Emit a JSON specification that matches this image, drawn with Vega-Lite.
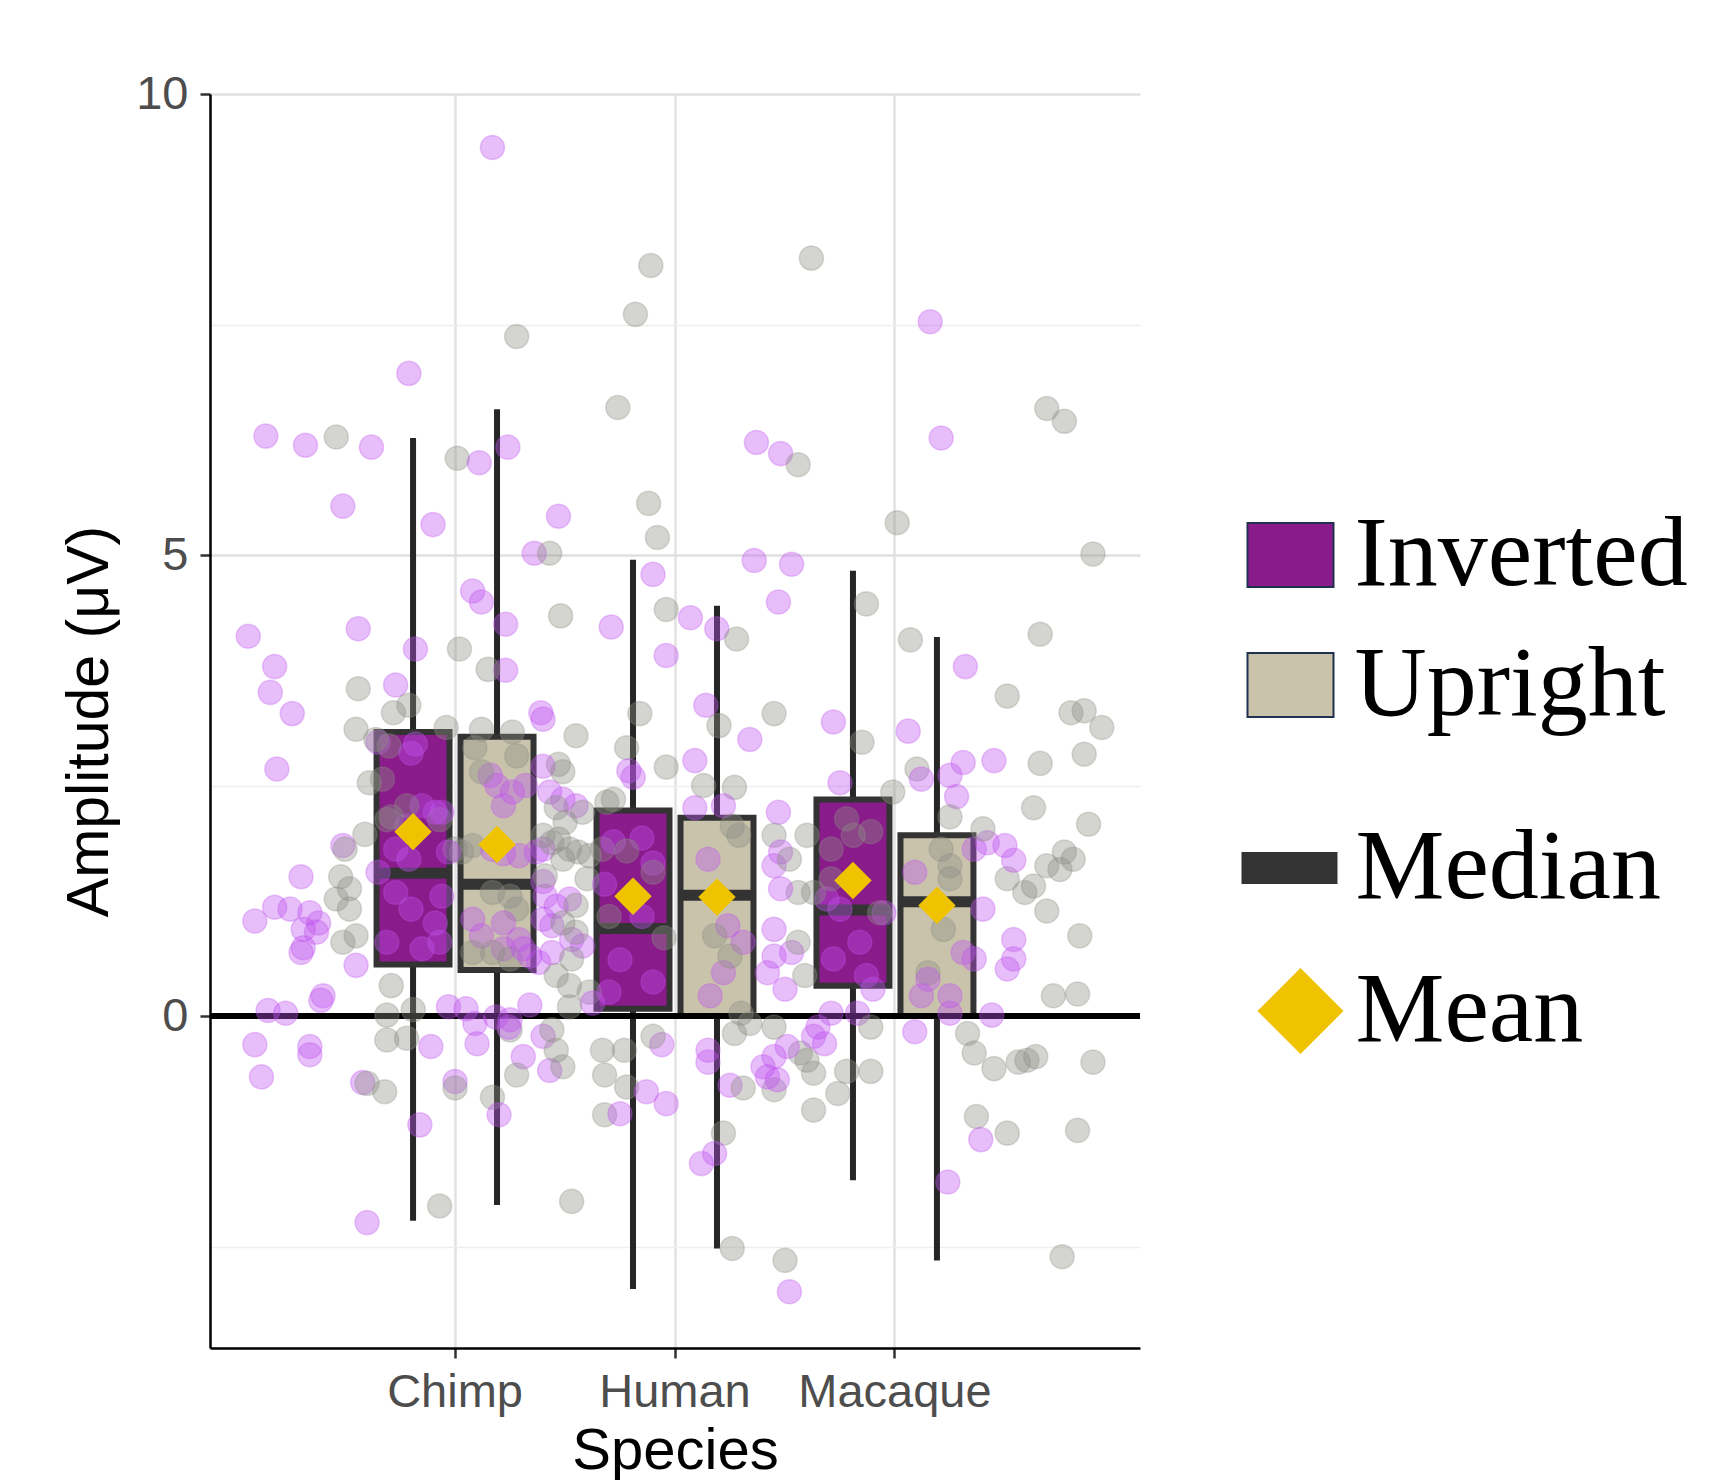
{
"$schema": "https://vega.github.io/schema/vega-lite/v6.json",
"width": 930, "height": 1254,
"autosize": {"type": "none"},
"padding": {"left": 210, "top": 94, "right": 570, "bottom": 132},
"background": "white",
"config": {
  "view": {"stroke": null},
  "font": "Liberation Sans",
  "axis": {"labelFont": "Liberation Sans", "labelFontSize": 47, "labelColor": "#4d4d4d", "labelLimit": 400, "tickSize": 10, "tickWidth": 2.5, "tickColor": "#333333", "domainColor": "black", "domainWidth": 2.5, "grid": true, "gridColor": "#e2e2e2", "gridWidth": 2.5, "titleFont": "Liberation Sans", "titleColor": "black", "titleFontWeight": "normal"},
  "axisX": {"titleFontSize": 58},
  "axisY": {"titleFontSize": 59}
},
"datasets": {
"stats": [
{"species":"Chimp","condition":"Inverted","lower":-2.22,"q1":0.56,"median":1.55,"q3":3.08,"upper":6.27,"mean":2.00},
{"species":"Chimp","condition":"Upright","lower":-2.05,"q1":0.50,"median":1.43,"q3":3.03,"upper":6.58,"mean":1.86},
{"species":"Human","condition":"Inverted","lower":-2.96,"q1":0.08,"median":0.95,"q3":2.23,"upper":4.95,"mean":1.30},
{"species":"Human","condition":"Upright","lower":-2.52,"q1":0.00,"median":1.31,"q3":2.15,"upper":4.45,"mean":1.29},
{"species":"Macaque","condition":"Inverted","lower":-1.78,"q1":0.33,"median":1.15,"q3":2.35,"upper":4.83,"mean":1.47},
{"species":"Macaque","condition":"Upright","lower":-2.65,"q1":0.00,"median":1.24,"q3":1.96,"upper":4.11,"mean":1.20}
],
"points": [
{"species":"Chimp","condition":"Inverted","jitter":0.17,"amplitude":9.42},
{"species":"Human","condition":"Upright","jitter":-0.11,"amplitude":8.14},
{"species":"Human","condition":"Upright","jitter":-0.18,"amplitude":7.61},
{"species":"Chimp","condition":"Upright","jitter":0.28,"amplitude":7.37},
{"species":"Chimp","condition":"Inverted","jitter":-0.21,"amplitude":6.97},
{"species":"Human","condition":"Upright","jitter":-0.26,"amplitude":6.60},
{"species":"Chimp","condition":"Inverted","jitter":-0.86,"amplitude":6.29},
{"species":"Chimp","condition":"Inverted","jitter":-0.68,"amplitude":6.19},
{"species":"Chimp","condition":"Upright","jitter":-0.54,"amplitude":6.28},
{"species":"Chimp","condition":"Inverted","jitter":-0.38,"amplitude":6.17},
{"species":"Chimp","condition":"Upright","jitter":0.01,"amplitude":6.05},
{"species":"Chimp","condition":"Inverted","jitter":0.11,"amplitude":6.00},
{"species":"Chimp","condition":"Inverted","jitter":0.24,"amplitude":6.17},
{"species":"Chimp","condition":"Inverted","jitter":-0.51,"amplitude":5.53},
{"species":"Chimp","condition":"Inverted","jitter":-0.10,"amplitude":5.33},
{"species":"Chimp","condition":"Inverted","jitter":0.47,"amplitude":5.42},
{"species":"Human","condition":"Upright","jitter":-0.12,"amplitude":5.56},
{"species":"Human","condition":"Upright","jitter":-0.08,"amplitude":5.19},
{"species":"Chimp","condition":"Inverted","jitter":0.36,"amplitude":5.02},
{"species":"Chimp","condition":"Upright","jitter":0.43,"amplitude":5.02},
{"species":"Macaque","condition":"Upright","jitter":-0.38,"amplitude":8.22},
{"species":"Macaque","condition":"Inverted","jitter":0.16,"amplitude":7.53},
{"species":"Macaque","condition":"Upright","jitter":0.69,"amplitude":6.59},
{"species":"Macaque","condition":"Upright","jitter":0.77,"amplitude":6.45},
{"species":"Macaque","condition":"Inverted","jitter":0.21,"amplitude":6.27},
{"species":"Human","condition":"Inverted","jitter":0.37,"amplitude":6.22},
{"species":"Human","condition":"Inverted","jitter":0.48,"amplitude":6.10},
{"species":"Macaque","condition":"Upright","jitter":-0.44,"amplitude":5.98},
{"species":"Macaque","condition":"Upright","jitter":0.01,"amplitude":5.35},
{"species":"Macaque","condition":"Upright","jitter":0.90,"amplitude":5.01},
{"species":"Human","condition":"Inverted","jitter":0.36,"amplitude":4.94},
{"species":"Human","condition":"Inverted","jitter":0.53,"amplitude":4.90},
{"species":"Chimp","condition":"Inverted","jitter":-0.94,"amplitude":4.12},
{"species":"Chimp","condition":"Inverted","jitter":-0.44,"amplitude":4.20},
{"species":"Chimp","condition":"Inverted","jitter":-0.82,"amplitude":3.79},
{"species":"Chimp","condition":"Inverted","jitter":-0.84,"amplitude":3.51},
{"species":"Chimp","condition":"Inverted","jitter":-0.74,"amplitude":3.28},
{"species":"Chimp","condition":"Inverted","jitter":-0.81,"amplitude":2.68},
{"species":"Chimp","condition":"Inverted","jitter":-0.18,"amplitude":3.98},
{"species":"Chimp","condition":"Upright","jitter":0.02,"amplitude":3.98},
{"species":"Chimp","condition":"Inverted","jitter":-0.27,"amplitude":3.59},
{"species":"Chimp","condition":"Upright","jitter":-0.44,"amplitude":3.55},
{"species":"Chimp","condition":"Upright","jitter":-0.21,"amplitude":3.37},
{"species":"Chimp","condition":"Upright","jitter":-0.28,"amplitude":3.29},
{"species":"Chimp","condition":"Upright","jitter":-0.45,"amplitude":3.11},
{"species":"Chimp","condition":"Inverted","jitter":0.08,"amplitude":4.61},
{"species":"Chimp","condition":"Inverted","jitter":0.12,"amplitude":4.49},
{"species":"Chimp","condition":"Inverted","jitter":0.23,"amplitude":4.25},
{"species":"Chimp","condition":"Inverted","jitter":0.23,"amplitude":3.75},
{"species":"Chimp","condition":"Upright","jitter":0.15,"amplitude":3.76},
{"species":"Chimp","condition":"Upright","jitter":0.48,"amplitude":4.34},
{"species":"Human","condition":"Inverted","jitter":-0.29,"amplitude":4.22},
{"species":"Chimp","condition":"Inverted","jitter":0.39,"amplitude":3.29},
{"species":"Chimp","condition":"Inverted","jitter":0.40,"amplitude":3.22},
{"species":"Human","condition":"Upright","jitter":-0.45,"amplitude":3.04},
{"species":"Human","condition":"Upright","jitter":-0.22,"amplitude":2.91},
{"species":"Human","condition":"Upright","jitter":-0.16,"amplitude":3.28},
{"species":"Human","condition":"Inverted","jitter":-0.21,"amplitude":2.66},
{"species":"Human","condition":"Inverted","jitter":-0.10,"amplitude":4.79},
{"species":"Human","condition":"Upright","jitter":-0.04,"amplitude":4.41},
{"species":"Human","condition":"Inverted","jitter":-0.04,"amplitude":3.91},
{"species":"Human","condition":"Upright","jitter":-0.04,"amplitude":2.70},
{"species":"Human","condition":"Inverted","jitter":-0.19,"amplitude":2.59},
{"species":"Chimp","condition":"Upright","jitter":0.47,"amplitude":2.73},
{"species":"Chimp","condition":"Upright","jitter":-0.39,"amplitude":2.53},
{"species":"Chimp","condition":"Upright","jitter":-0.04,"amplitude":3.13},
{"species":"Chimp","condition":"Upright","jitter":0.12,"amplitude":3.11},
{"species":"Chimp","condition":"Upright","jitter":0.26,"amplitude":3.08},
{"species":"Chimp","condition":"Inverted","jitter":-0.18,"amplitude":2.95},
{"species":"Chimp","condition":"Inverted","jitter":-0.35,"amplitude":2.97},
{"species":"Chimp","condition":"Inverted","jitter":0.16,"amplitude":2.61},
{"species":"Chimp","condition":"Inverted","jitter":0.19,"amplitude":2.50},
{"species":"Chimp","condition":"Inverted","jitter":0.26,"amplitude":2.43},
{"species":"Chimp","condition":"Inverted","jitter":0.22,"amplitude":2.28},
{"species":"Chimp","condition":"Upright","jitter":0.12,"amplitude":2.65},
{"species":"Chimp","condition":"Inverted","jitter":0.32,"amplitude":2.50},
{"species":"Chimp","condition":"Inverted","jitter":0.40,"amplitude":2.71},
{"species":"Chimp","condition":"Upright","jitter":0.49,"amplitude":2.65},
{"species":"Chimp","condition":"Inverted","jitter":0.43,"amplitude":2.43},
{"species":"Chimp","condition":"Inverted","jitter":0.49,"amplitude":2.35},
{"species":"Human","condition":"Inverted","jitter":-0.45,"amplitude":2.28},
{"species":"Human","condition":"Upright","jitter":-0.42,"amplitude":2.21},
{"species":"Human","condition":"Upright","jitter":-0.31,"amplitude":2.32},
{"species":"Human","condition":"Upright","jitter":-0.28,"amplitude":2.35},
{"species":"Chimp","condition":"Upright","jitter":0.46,"amplitude":2.26},
{"species":"Chimp","condition":"Upright","jitter":0.50,"amplitude":2.10},
{"species":"Chimp","condition":"Upright","jitter":0.47,"amplitude":1.92},
{"species":"Chimp","condition":"Inverted","jitter":-0.15,"amplitude":2.28},
{"species":"Chimp","condition":"Upright","jitter":-0.07,"amplitude":2.13},
{"species":"Chimp","condition":"Inverted","jitter":-0.22,"amplitude":2.06},
{"species":"Chimp","condition":"Inverted","jitter":-0.09,"amplitude":2.21},
{"species":"Chimp","condition":"Upright","jitter":-0.29,"amplitude":2.16},
{"species":"Chimp","condition":"Upright","jitter":-0.41,"amplitude":1.97},
{"species":"Chimp","condition":"Inverted","jitter":-0.51,"amplitude":1.85},
{"species":"Chimp","condition":"Upright","jitter":-0.50,"amplitude":1.81},
{"species":"Chimp","condition":"Inverted","jitter":-0.27,"amplitude":1.81},
{"species":"Chimp","condition":"Inverted","jitter":-0.21,"amplitude":1.70},
{"species":"Chimp","condition":"Upright","jitter":0.00,"amplitude":1.81},
{"species":"Chimp","condition":"Upright","jitter":0.03,"amplitude":1.78},
{"species":"Chimp","condition":"Upright","jitter":0.08,"amplitude":1.85},
{"species":"Chimp","condition":"Inverted","jitter":-0.03,"amplitude":1.78},
{"species":"Chimp","condition":"Inverted","jitter":0.29,"amplitude":1.74},
{"species":"Chimp","condition":"Inverted","jitter":0.37,"amplitude":1.78},
{"species":"Chimp","condition":"Inverted","jitter":0.40,"amplitude":1.81},
{"species":"Chimp","condition":"Upright","jitter":0.40,"amplitude":1.96},
{"species":"Chimp","condition":"Upright","jitter":0.44,"amplitude":1.88},
{"species":"Chimp","condition":"Upright","jitter":0.52,"amplitude":1.81},
{"species":"Human","condition":"Upright","jitter":-0.44,"amplitude":1.78},
{"species":"Human","condition":"Upright","jitter":-0.39,"amplitude":1.74},
{"species":"Human","condition":"Upright","jitter":-0.33,"amplitude":1.81},
{"species":"Chimp","condition":"Inverted","jitter":-0.70,"amplitude":1.51},
{"species":"Chimp","condition":"Upright","jitter":-0.52,"amplitude":1.51},
{"species":"Chimp","condition":"Upright","jitter":-0.48,"amplitude":1.38},
{"species":"Chimp","condition":"Upright","jitter":-0.54,"amplitude":1.27},
{"species":"Chimp","condition":"Upright","jitter":-0.48,"amplitude":1.16},
{"species":"Chimp","condition":"Upright","jitter":-0.51,"amplitude":0.80},
{"species":"Chimp","condition":"Upright","jitter":-0.45,"amplitude":0.87},
{"species":"Chimp","condition":"Inverted","jitter":-0.91,"amplitude":1.03},
{"species":"Chimp","condition":"Inverted","jitter":-0.82,"amplitude":1.18},
{"species":"Chimp","condition":"Inverted","jitter":-0.75,"amplitude":1.16},
{"species":"Chimp","condition":"Inverted","jitter":-0.66,"amplitude":1.12},
{"species":"Chimp","condition":"Inverted","jitter":-0.69,"amplitude":0.94},
{"species":"Chimp","condition":"Inverted","jitter":-0.62,"amplitude":1.01},
{"species":"Chimp","condition":"Inverted","jitter":-0.63,"amplitude":0.91},
{"species":"Chimp","condition":"Inverted","jitter":-0.69,"amplitude":0.74},
{"species":"Chimp","condition":"Inverted","jitter":-0.70,"amplitude":0.69},
{"species":"Chimp","condition":"Inverted","jitter":-0.45,"amplitude":0.55},
{"species":"Chimp","condition":"Upright","jitter":-0.29,"amplitude":0.33},
{"species":"Chimp","condition":"Inverted","jitter":-0.60,"amplitude":0.22},
{"species":"Chimp","condition":"Inverted","jitter":-0.85,"amplitude":0.06},
{"species":"Chimp","condition":"Inverted","jitter":-0.77,"amplitude":0.03},
{"species":"Chimp","condition":"Upright","jitter":-0.36,"amplitude":3.00},
{"species":"Chimp","condition":"Upright","jitter":-0.30,"amplitude":2.93},
{"species":"Chimp","condition":"Upright","jitter":-0.33,"amplitude":2.57},
{"species":"Chimp","condition":"Upright","jitter":-0.22,"amplitude":2.28},
{"species":"Chimp","condition":"Upright","jitter":-0.31,"amplitude":2.13},
{"species":"Chimp","condition":"Inverted","jitter":-0.20,"amplitude":2.85},
{"species":"Chimp","condition":"Inverted","jitter":-0.06,"amplitude":2.21},
{"species":"Chimp","condition":"Inverted","jitter":-0.35,"amplitude":1.56},
{"species":"Chimp","condition":"Inverted","jitter":-0.27,"amplitude":1.34},
{"species":"Chimp","condition":"Inverted","jitter":-0.31,"amplitude":0.80},
{"species":"Chimp","condition":"Inverted","jitter":-0.06,"amplitude":1.30},
{"species":"Chimp","condition":"Inverted","jitter":-0.20,"amplitude":1.16},
{"species":"Chimp","condition":"Inverted","jitter":-0.09,"amplitude":1.01},
{"species":"Chimp","condition":"Inverted","jitter":-0.07,"amplitude":0.80},
{"species":"Chimp","condition":"Inverted","jitter":-0.15,"amplitude":0.73},
{"species":"Chimp","condition":"Upright","jitter":0.09,"amplitude":2.91},
{"species":"Chimp","condition":"Upright","jitter":0.28,"amplitude":2.82},
{"species":"Chimp","condition":"Inverted","jitter":0.17,"amplitude":1.81},
{"species":"Chimp","condition":"Inverted","jitter":0.22,"amplitude":1.76},
{"species":"Chimp","condition":"Upright","jitter":0.17,"amplitude":1.34},
{"species":"Chimp","condition":"Upright","jitter":0.25,"amplitude":1.30},
{"species":"Chimp","condition":"Upright","jitter":0.28,"amplitude":1.16},
{"species":"Chimp","condition":"Inverted","jitter":0.08,"amplitude":1.05},
{"species":"Chimp","condition":"Inverted","jitter":0.22,"amplitude":1.01},
{"species":"Chimp","condition":"Inverted","jitter":0.12,"amplitude":0.87},
{"species":"Chimp","condition":"Inverted","jitter":0.29,"amplitude":0.83},
{"species":"Chimp","condition":"Inverted","jitter":0.22,"amplitude":0.73},
{"species":"Chimp","condition":"Upright","jitter":0.08,"amplitude":0.69},
{"species":"Chimp","condition":"Upright","jitter":0.17,"amplitude":0.69},
{"species":"Chimp","condition":"Upright","jitter":0.25,"amplitude":0.62},
{"species":"Chimp","condition":"Inverted","jitter":0.31,"amplitude":0.73},
{"species":"Chimp","condition":"Inverted","jitter":0.34,"amplitude":0.65},
{"species":"Chimp","condition":"Inverted","jitter":0.40,"amplitude":1.46},
{"species":"Chimp","condition":"Inverted","jitter":0.41,"amplitude":1.30},
{"species":"Chimp","condition":"Inverted","jitter":0.46,"amplitude":1.19},
{"species":"Chimp","condition":"Inverted","jitter":0.52,"amplitude":1.27},
{"species":"Chimp","condition":"Inverted","jitter":0.40,"amplitude":1.05},
{"species":"Chimp","condition":"Inverted","jitter":0.44,"amplitude":0.98},
{"species":"Chimp","condition":"Inverted","jitter":0.53,"amplitude":0.83},
{"species":"Human","condition":"Inverted","jitter":-0.42,"amplitude":0.76},
{"species":"Chimp","condition":"Inverted","jitter":0.44,"amplitude":0.69},
{"species":"Chimp","condition":"Inverted","jitter":0.38,"amplitude":0.58},
{"species":"Chimp","condition":"Upright","jitter":0.41,"amplitude":1.52},
{"species":"Chimp","condition":"Upright","jitter":0.49,"amplitude":1.70},
{"species":"Human","condition":"Upright","jitter":-0.45,"amplitude":1.20},
{"species":"Human","condition":"Upright","jitter":-0.40,"amplitude":1.49},
{"species":"Chimp","condition":"Upright","jitter":0.49,"amplitude":1.01},
{"species":"Human","condition":"Upright","jitter":-0.45,"amplitude":0.91},
{"species":"Chimp","condition":"Upright","jitter":0.53,"amplitude":0.62},
{"species":"Chimp","condition":"Upright","jitter":0.46,"amplitude":0.44},
{"species":"Chimp","condition":"Upright","jitter":0.52,"amplitude":0.33},
{"species":"Human","condition":"Upright","jitter":-0.39,"amplitude":0.26},
{"species":"Human","condition":"Inverted","jitter":0.47,"amplitude":4.49},
{"species":"Macaque","condition":"Upright","jitter":-0.13,"amplitude":4.47},
{"species":"Human","condition":"Inverted","jitter":0.07,"amplitude":4.32},
{"species":"Human","condition":"Inverted","jitter":0.19,"amplitude":4.20},
{"species":"Human","condition":"Upright","jitter":0.28,"amplitude":4.09},
{"species":"Macaque","condition":"Upright","jitter":0.07,"amplitude":4.08},
{"species":"Macaque","condition":"Upright","jitter":0.66,"amplitude":4.14},
{"species":"Macaque","condition":"Inverted","jitter":0.32,"amplitude":3.79},
{"species":"Macaque","condition":"Upright","jitter":0.51,"amplitude":3.47},
{"species":"Macaque","condition":"Upright","jitter":0.80,"amplitude":3.29},
{"species":"Macaque","condition":"Upright","jitter":0.86,"amplitude":3.31},
{"species":"Macaque","condition":"Upright","jitter":0.94,"amplitude":3.13},
{"species":"Macaque","condition":"Upright","jitter":0.86,"amplitude":2.84},
{"species":"Human","condition":"Inverted","jitter":0.14,"amplitude":3.37},
{"species":"Human","condition":"Upright","jitter":0.20,"amplitude":3.15},
{"species":"Human","condition":"Upright","jitter":0.45,"amplitude":3.28},
{"species":"Human","condition":"Inverted","jitter":0.34,"amplitude":3.00},
{"species":"Macaque","condition":"Inverted","jitter":-0.28,"amplitude":3.19},
{"species":"Macaque","condition":"Upright","jitter":-0.15,"amplitude":2.97},
{"species":"Macaque","condition":"Inverted","jitter":0.06,"amplitude":3.09},
{"species":"Human","condition":"Inverted","jitter":0.09,"amplitude":2.77},
{"species":"Human","condition":"Upright","jitter":0.27,"amplitude":2.48},
{"species":"Macaque","condition":"Inverted","jitter":-0.25,"amplitude":2.53},
{"species":"Macaque","condition":"Upright","jitter":-0.01,"amplitude":2.43},
{"species":"Macaque","condition":"Upright","jitter":0.10,"amplitude":2.68},
{"species":"Macaque","condition":"Inverted","jitter":0.12,"amplitude":2.57},
{"species":"Macaque","condition":"Inverted","jitter":0.25,"amplitude":2.61},
{"species":"Macaque","condition":"Inverted","jitter":0.31,"amplitude":2.75},
{"species":"Macaque","condition":"Inverted","jitter":0.45,"amplitude":2.77},
{"species":"Macaque","condition":"Inverted","jitter":0.28,"amplitude":2.38},
{"species":"Macaque","condition":"Upright","jitter":0.25,"amplitude":2.16},
{"species":"Macaque","condition":"Upright","jitter":0.63,"amplitude":2.26},
{"species":"Human","condition":"Inverted","jitter":0.09,"amplitude":2.26},
{"species":"Human","condition":"Inverted","jitter":0.22,"amplitude":2.28},
{"species":"Human","condition":"Inverted","jitter":0.47,"amplitude":2.21},
{"species":"Human","condition":"Upright","jitter":0.26,"amplitude":2.06},
{"species":"Human","condition":"Upright","jitter":0.29,"amplitude":1.96},
{"species":"Human","condition":"Upright","jitter":0.45,"amplitude":1.96},
{"species":"Macaque","condition":"Upright","jitter":-0.40,"amplitude":1.96},
{"species":"Human","condition":"Inverted","jitter":0.48,"amplitude":1.78},
{"species":"Human","condition":"Inverted","jitter":0.45,"amplitude":1.63},
{"species":"Human","condition":"Upright","jitter":0.52,"amplitude":1.70},
{"species":"Macaque","condition":"Upright","jitter":-0.44,"amplitude":1.34},
{"species":"Human","condition":"Inverted","jitter":0.48,"amplitude":1.38},
{"species":"Macaque","condition":"Upright","jitter":0.51,"amplitude":1.49},
{"species":"Macaque","condition":"Upright","jitter":0.59,"amplitude":1.34},
{"species":"Macaque","condition":"Upright","jitter":0.63,"amplitude":1.41},
{"species":"Macaque","condition":"Upright","jitter":0.69,"amplitude":1.63},
{"species":"Macaque","condition":"Upright","jitter":0.77,"amplitude":1.78},
{"species":"Macaque","condition":"Upright","jitter":0.81,"amplitude":1.70},
{"species":"Macaque","condition":"Upright","jitter":0.75,"amplitude":1.59},
{"species":"Macaque","condition":"Upright","jitter":0.69,"amplitude":1.14},
{"species":"Macaque","condition":"Upright","jitter":0.84,"amplitude":0.87},
{"species":"Macaque","condition":"Inverted","jitter":0.36,"amplitude":1.81},
{"species":"Macaque","condition":"Inverted","jitter":0.42,"amplitude":1.88},
{"species":"Macaque","condition":"Inverted","jitter":0.50,"amplitude":1.85},
{"species":"Macaque","condition":"Inverted","jitter":0.54,"amplitude":1.69},
{"species":"Macaque","condition":"Inverted","jitter":0.40,"amplitude":1.16},
{"species":"Macaque","condition":"Inverted","jitter":0.54,"amplitude":0.83},
{"species":"Macaque","condition":"Inverted","jitter":0.54,"amplitude":0.62},
{"species":"Macaque","condition":"Inverted","jitter":0.51,"amplitude":0.51},
{"species":"Macaque","condition":"Inverted","jitter":0.31,"amplitude":0.69},
{"species":"Macaque","condition":"Inverted","jitter":0.36,"amplitude":0.62},
{"species":"Macaque","condition":"Upright","jitter":0.72,"amplitude":0.22},
{"species":"Macaque","condition":"Upright","jitter":0.83,"amplitude":0.24},
{"species":"Human","condition":"Inverted","jitter":0.15,"amplitude":1.70},
{"species":"Human","condition":"Inverted","jitter":0.24,"amplitude":0.98},
{"species":"Human","condition":"Inverted","jitter":0.22,"amplitude":0.47},
{"species":"Human","condition":"Inverted","jitter":0.16,"amplitude":0.22},
{"species":"Human","condition":"Inverted","jitter":0.45,"amplitude":0.94},
{"species":"Human","condition":"Inverted","jitter":0.42,"amplitude":0.47},
{"species":"Human","condition":"Inverted","jitter":0.53,"amplitude":0.69},
{"species":"Human","condition":"Inverted","jitter":0.31,"amplitude":0.80},
{"species":"Human","condition":"Upright","jitter":0.25,"amplitude":0.65},
{"species":"Human","condition":"Upright","jitter":0.18,"amplitude":0.87},
{"species":"Macaque","condition":"Inverted","jitter":-0.31,"amplitude":1.27},
{"species":"Macaque","condition":"Inverted","jitter":-0.25,"amplitude":1.16},
{"species":"Macaque","condition":"Inverted","jitter":-0.28,"amplitude":0.62},
{"species":"Macaque","condition":"Inverted","jitter":-0.16,"amplitude":0.80},
{"species":"Macaque","condition":"Inverted","jitter":-0.05,"amplitude":1.12},
{"species":"Macaque","condition":"Inverted","jitter":-0.13,"amplitude":0.44},
{"species":"Macaque","condition":"Inverted","jitter":-0.10,"amplitude":0.29},
{"species":"Macaque","condition":"Upright","jitter":-0.22,"amplitude":2.14},
{"species":"Macaque","condition":"Upright","jitter":-0.19,"amplitude":1.96},
{"species":"Macaque","condition":"Upright","jitter":-0.11,"amplitude":2.00},
{"species":"Macaque","condition":"Upright","jitter":-0.29,"amplitude":1.81},
{"species":"Macaque","condition":"Upright","jitter":-0.29,"amplitude":1.49},
{"species":"Macaque","condition":"Upright","jitter":-0.07,"amplitude":1.12},
{"species":"Macaque","condition":"Upright","jitter":-0.37,"amplitude":1.34},
{"species":"Macaque","condition":"Upright","jitter":0.21,"amplitude":1.81},
{"species":"Macaque","condition":"Upright","jitter":0.25,"amplitude":1.63},
{"species":"Macaque","condition":"Upright","jitter":0.22,"amplitude":0.94},
{"species":"Macaque","condition":"Upright","jitter":0.15,"amplitude":0.47},
{"species":"Macaque","condition":"Upright","jitter":0.25,"amplitude":1.49},
{"species":"Macaque","condition":"Inverted","jitter":0.09,"amplitude":1.56},
{"species":"Macaque","condition":"Inverted","jitter":0.15,"amplitude":0.40},
{"species":"Macaque","condition":"Inverted","jitter":0.25,"amplitude":0.22},
{"species":"Macaque","condition":"Inverted","jitter":0.12,"amplitude":0.22},
{"species":"Macaque","condition":"Upright","jitter":-0.44,"amplitude":0.80},
{"species":"Human","condition":"Inverted","jitter":0.45,"amplitude":0.65},
{"species":"Human","condition":"Inverted","jitter":0.50,"amplitude":0.29},
{"species":"Macaque","condition":"Upright","jitter":-0.41,"amplitude":0.44},
{"species":"Chimp","condition":"Inverted","jitter":-0.91,"amplitude":-0.31},
{"species":"Chimp","condition":"Inverted","jitter":-0.66,"amplitude":-0.33},
{"species":"Chimp","condition":"Inverted","jitter":-0.66,"amplitude":-0.42},
{"species":"Chimp","condition":"Inverted","jitter":-0.88,"amplitude":-0.66},
{"species":"Chimp","condition":"Inverted","jitter":-0.42,"amplitude":-0.72},
{"species":"Chimp","condition":"Upright","jitter":-0.40,"amplitude":-0.73},
{"species":"Chimp","condition":"Upright","jitter":-0.32,"amplitude":-0.82},
{"species":"Chimp","condition":"Upright","jitter":-0.31,"amplitude":0.01},
{"species":"Chimp","condition":"Upright","jitter":-0.31,"amplitude":-0.26},
{"species":"Chimp","condition":"Upright","jitter":-0.22,"amplitude":-0.24},
{"species":"Chimp","condition":"Inverted","jitter":-0.16,"amplitude":-1.18},
{"species":"Chimp","condition":"Inverted","jitter":-0.40,"amplitude":-2.24},
{"species":"Chimp","condition":"Upright","jitter":-0.07,"amplitude":-2.06},
{"species":"Chimp","condition":"Inverted","jitter":-0.11,"amplitude":-0.33},
{"species":"Chimp","condition":"Inverted","jitter":0.00,"amplitude":-0.71},
{"species":"Chimp","condition":"Upright","jitter":0.00,"amplitude":-0.78},
{"species":"Chimp","condition":"Inverted","jitter":0.10,"amplitude":-0.30},
{"species":"Chimp","condition":"Inverted","jitter":0.09,"amplitude":-0.08},
{"species":"Chimp","condition":"Upright","jitter":0.17,"amplitude":-0.88},
{"species":"Chimp","condition":"Inverted","jitter":0.20,"amplitude":-1.07},
{"species":"Chimp","condition":"Upright","jitter":0.25,"amplitude":-0.15},
{"species":"Chimp","condition":"Inverted","jitter":0.25,"amplitude":-0.04},
{"species":"Chimp","condition":"Inverted","jitter":0.31,"amplitude":-0.44},
{"species":"Chimp","condition":"Upright","jitter":0.28,"amplitude":-0.64},
{"species":"Chimp","condition":"Inverted","jitter":0.40,"amplitude":-0.22},
{"species":"Chimp","condition":"Inverted","jitter":0.43,"amplitude":-0.59},
{"species":"Chimp","condition":"Upright","jitter":0.44,"amplitude":-0.15},
{"species":"Chimp","condition":"Upright","jitter":0.49,"amplitude":-0.55},
{"species":"Chimp","condition":"Upright","jitter":0.46,"amplitude":-0.37},
{"species":"Human","condition":"Upright","jitter":-0.47,"amplitude":-2.01},
{"species":"Human","condition":"Upright","jitter":-0.33,"amplitude":-0.37},
{"species":"Human","condition":"Upright","jitter":-0.32,"amplitude":-0.64},
{"species":"Human","condition":"Upright","jitter":-0.23,"amplitude":-0.37},
{"species":"Human","condition":"Upright","jitter":-0.22,"amplitude":-0.77},
{"species":"Human","condition":"Upright","jitter":-0.32,"amplitude":-1.07},
{"species":"Human","condition":"Inverted","jitter":-0.25,"amplitude":-1.06},
{"species":"Human","condition":"Inverted","jitter":-0.13,"amplitude":-0.82},
{"species":"Human","condition":"Inverted","jitter":-0.04,"amplitude":-0.95},
{"species":"Human","condition":"Inverted","jitter":-0.06,"amplitude":-0.31},
{"species":"Human","condition":"Upright","jitter":-0.10,"amplitude":-0.22},
{"species":"Chimp","condition":"Inverted","jitter":-0.03,"amplitude":0.10},
{"species":"Chimp","condition":"Inverted","jitter":0.05,"amplitude":0.08},
{"species":"Chimp","condition":"Inverted","jitter":0.34,"amplitude":0.12},
{"species":"Human","condition":"Inverted","jitter":-0.375,"amplitude":0.14},
{"species":"Chimp","condition":"Upright","jitter":-0.19,"amplitude":0.07},
{"species":"Chimp","condition":"Upright","jitter":0.52,"amplitude":0.10},
{"species":"Chimp","condition":"Inverted","jitter":0.185,"amplitude":-0.01},
{"species":"Chimp","condition":"Inverted","jitter":0.245,"amplitude":-0.12},
{"species":"Chimp","condition":"Inverted","jitter":-0.61,"amplitude":0.17},
{"species":"Human","condition":"Inverted","jitter":0.15,"amplitude":-0.37},
{"species":"Human","condition":"Inverted","jitter":0.15,"amplitude":-0.50},
{"species":"Human","condition":"Inverted","jitter":0.25,"amplitude":-0.75},
{"species":"Human","condition":"Upright","jitter":0.31,"amplitude":-0.78},
{"species":"Human","condition":"Upright","jitter":0.22,"amplitude":-1.27},
{"species":"Human","condition":"Inverted","jitter":0.18,"amplitude":-1.49},
{"species":"Human","condition":"Inverted","jitter":0.12,"amplitude":-1.60},
{"species":"Human","condition":"Upright","jitter":0.26,"amplitude":-2.52},
{"species":"Human","condition":"Upright","jitter":0.50,"amplitude":-2.65},
{"species":"Human","condition":"Inverted","jitter":0.52,"amplitude":-2.99},
{"species":"Human","condition":"Upright","jitter":0.45,"amplitude":-0.80},
{"species":"Macaque","condition":"Upright","jitter":-0.37,"amplitude":-0.62},
{"species":"Macaque","condition":"Upright","jitter":-0.37,"amplitude":-1.02},
{"species":"Macaque","condition":"Upright","jitter":-0.26,"amplitude":-0.84},
{"species":"Macaque","condition":"Upright","jitter":-0.22,"amplitude":-0.60},
{"species":"Macaque","condition":"Upright","jitter":-0.11,"amplitude":-0.60},
{"species":"Macaque","condition":"Upright","jitter":-0.43,"amplitude":-0.40},
{"species":"Macaque","condition":"Upright","jitter":-0.40,"amplitude":-0.48},
{"species":"Human","condition":"Inverted","jitter":0.40,"amplitude":-0.55},
{"species":"Human","condition":"Inverted","jitter":0.45,"amplitude":-0.44},
{"species":"Human","condition":"Inverted","jitter":0.51,"amplitude":-0.33},
{"species":"Macaque","condition":"Inverted","jitter":-0.37,"amplitude":-0.22},
{"species":"Macaque","condition":"Inverted","jitter":-0.32,"amplitude":-0.30},
{"species":"Macaque","condition":"Inverted","jitter":-0.35,"amplitude":-0.12},
{"species":"Macaque","condition":"Inverted","jitter":-0.29,"amplitude":0.03},
{"species":"Macaque","condition":"Inverted","jitter":-0.17,"amplitude":0.03},
{"species":"Human","condition":"Inverted","jitter":0.42,"amplitude":-0.66},
{"species":"Human","condition":"Inverted","jitter":0.465,"amplitude":-0.69},
{"species":"Human","condition":"Upright","jitter":0.45,"amplitude":-0.12},
{"species":"Human","condition":"Upright","jitter":0.34,"amplitude":-0.08},
{"species":"Human","condition":"Upright","jitter":0.27,"amplitude":-0.19},
{"species":"Human","condition":"Upright","jitter":0.30,"amplitude":0.03},
{"species":"Macaque","condition":"Upright","jitter":-0.11,"amplitude":-0.12},
{"species":"Macaque","condition":"Inverted","jitter":0.09,"amplitude":-0.17},
{"species":"Macaque","condition":"Upright","jitter":0.33,"amplitude":-0.19},
{"species":"Macaque","condition":"Upright","jitter":0.36,"amplitude":-0.40},
{"species":"Macaque","condition":"Upright","jitter":0.45,"amplitude":-0.57},
{"species":"Macaque","condition":"Upright","jitter":0.56,"amplitude":-0.50},
{"species":"Macaque","condition":"Upright","jitter":0.60,"amplitude":-0.48},
{"species":"Macaque","condition":"Upright","jitter":0.64,"amplitude":-0.44},
{"species":"Macaque","condition":"Upright","jitter":0.90,"amplitude":-0.50},
{"species":"Macaque","condition":"Inverted","jitter":0.44,"amplitude":0.01},
{"species":"Macaque","condition":"Inverted","jitter":0.25,"amplitude":0.03},
{"species":"Macaque","condition":"Upright","jitter":0.37,"amplitude":-1.09},
{"species":"Macaque","condition":"Upright","jitter":0.51,"amplitude":-1.27},
{"species":"Macaque","condition":"Upright","jitter":0.83,"amplitude":-1.24},
{"species":"Macaque","condition":"Inverted","jitter":0.39,"amplitude":-1.34},
{"species":"Macaque","condition":"Inverted","jitter":0.24,"amplitude":-1.80},
{"species":"Macaque","condition":"Upright","jitter":0.76,"amplitude":-2.61},
{"species":"Human","condition":"Upright","jitter":0.13,"amplitude":2.50},
{"species":"Human","condition":"Inverted","jitter":-0.28,"amplitude":1.89},
{"species":"Human","condition":"Inverted","jitter":-0.15,"amplitude":1.93},
{"species":"Human","condition":"Inverted","jitter":-0.10,"amplitude":1.66},
{"species":"Human","condition":"Inverted","jitter":-0.32,"amplitude":1.43},
{"species":"Human","condition":"Inverted","jitter":-0.15,"amplitude":1.08},
{"species":"Human","condition":"Inverted","jitter":-0.25,"amplitude":0.61},
{"species":"Human","condition":"Inverted","jitter":-0.10,"amplitude":0.37},
{"species":"Human","condition":"Inverted","jitter":-0.30,"amplitude":0.26},
{"species":"Human","condition":"Upright","jitter":-0.22,"amplitude":1.79},
{"species":"Human","condition":"Upright","jitter":-0.10,"amplitude":1.56},
{"species":"Human","condition":"Upright","jitter":-0.30,"amplitude":1.08},
{"species":"Human","condition":"Upright","jitter":-0.05,"amplitude":0.85},
{"species":"Macaque","condition":"Upright","jitter":0.40,"amplitude":2.03},
{"species":"Macaque","condition":"Upright","jitter":0.66,"amplitude":2.74},
{"species":"Macaque","condition":"Upright","jitter":0.88,"amplitude":2.08}
]
},
"resolve": {"scale": {"xOffset": "independent", "fill": "independent", "shape": "independent"}},
"layer": [
{
  "data": {"name": "stats"},
  "mark": {"type": "rule", "strokeWidth": 6, "color": "#262626", "strokeCap": "butt"},
  "encoding": {
    "x": {"field": "species", "type": "nominal", "title": "Species",
      "scale": {"type": "band", "domain": ["Chimp","Human","Macaque"], "paddingInner": 0, "paddingOuter": 0.614},
      "axis": {"labelAngle": 0, "labelPadding": 11, "titlePadding": 7, "labelLimit": 400}},
    "xOffset": {"field": "condition", "type": "nominal", "scale": {"type": "band", "domain": ["Inverted","Upright"], "paddingInner": 0.131, "paddingOuter": 0.375}},
    "y": {"field": "lower", "type": "quantitative", "title": "Amplitude (μV)",
      "scale": {"domain": [-3.6, 10], "nice": false, "zero": false},
      "axis": {"values": [-2.5, 0, 2.5, 5, 7.5, 10], "format": "d", "labelExpr": "datum.value % 5 === 0 ? datum.label : ''", "labelPadding": 12, "titlePadding": 16,
        "tickOpacity": {"condition": {"test": "datum.value % 5 === 0", "value": 1}, "value": 0},
        "gridColor": {"condition": {"test": "datum.value % 5 === 0", "value": "#e0e0e0"}, "value": "#eeeeee"},
        "gridWidth": {"condition": {"test": "datum.value % 5 === 0", "value": 2.5}, "value": 1.5}}},
    "y2": {"field": "upper"}
  }
},
{
  "data": {"name": "stats"},
  "mark": {"type": "bar", "stroke": "#333333", "strokeWidth": 6, "opacity": 1},
  "encoding": {
    "x": {"field": "species", "type": "nominal", "title": "Species", "scale": {"type": "band", "domain": ["Chimp","Human","Macaque"], "paddingInner": 0, "paddingOuter": 0.614}},
    "xOffset": {"field": "condition", "type": "nominal", "scale": {"type": "band", "domain": ["Inverted","Upright"], "paddingInner": 0.131, "paddingOuter": 0.375}},
    "y": {"field": "q1", "type": "quantitative", "title": "Amplitude (μV)", "scale": {"domain": [-3.6, 10], "nice": false, "zero": false}},
    "y2": {"field": "q3"},
    "fill": {"field": "condition", "type": "nominal",
      "scale": {"domain": ["Inverted","Upright"], "range": ["#8a1b8a","#c9c3ac"]},
      "legend": {"title": null, "orient": "none", "legendX": 1030.5, "legendY": 411, "padding": 0,
        "symbolType": "M-1,-0.744H1V0.744H-1Z", "symbolSize": 7396, "symbolStrokeColor": "#22304f", "symbolStrokeWidth": 2, "symbolOpacity": 1,
        "labelFont": "Liberation Serif", "labelFontSize": 100, "labelColor": "black", "labelOffset": 14, "labelLimit": 0, "rowPadding": 30}}
  }
},
{
  "data": {"name": "stats"},
  "mark": {"type": "tick", "orient": "horizontal", "thickness": 11, "size": 78, "color": "#333333", "opacity": 1},
  "encoding": {
    "x": {"field": "species", "type": "nominal", "title": "Species", "scale": {"type": "band", "domain": ["Chimp","Human","Macaque"], "paddingInner": 0, "paddingOuter": 0.614}},
    "xOffset": {"field": "condition", "type": "nominal", "scale": {"type": "band", "domain": ["Inverted","Upright"], "paddingInner": 0.131, "paddingOuter": 0.375}},
    "y": {"field": "median", "type": "quantitative", "title": "Amplitude (μV)", "scale": {"domain": [-3.6, 10], "nice": false, "zero": false}}
  }
},
{
  "data": {"values": [{}]},
  "mark": {"type": "rule", "strokeWidth": 6, "color": "black"},
  "encoding": {
    "y": {"datum": 0, "type": "quantitative", "title": "Amplitude (μV)", "scale": {"domain": [-3.6, 10], "nice": false, "zero": false}}
  }
},
{
  "data": {"name": "points"},
  "mark": {"type": "circle", "size": 580, "fillOpacity": 0.38, "strokeOpacity": 0.3, "strokeWidth": 1.5},
  "encoding": {
    "x": {"field": "species", "type": "nominal", "title": "Species", "scale": {"type": "band", "domain": ["Chimp","Human","Macaque"], "paddingInner": 0, "paddingOuter": 0.614}},
    "xOffset": {"field": "jitter", "type": "quantitative", "scale": {"domain": [-1, 1], "range": [-110, 330]}},
    "y": {"field": "amplitude", "type": "quantitative", "title": "Amplitude (μV)", "scale": {"domain": [-3.6, 10], "nice": false, "zero": false}},
    "color": {"field": "condition", "type": "nominal", "scale": {"domain": ["Inverted","Upright"], "range": ["#c054f0","#8f8f85"]}, "legend": null},
    "stroke": {"field": "condition", "type": "nominal", "scale": {"domain": ["Inverted","Upright"], "range": ["#c054f0","#8f8f85"]}, "legend": null}
  }
},
{
  "data": {"name": "stats"},
  "mark": {"type": "point", "filled": true, "size": 1400, "opacity": 1},
  "encoding": {
    "x": {"field": "species", "type": "nominal", "title": "Species", "scale": {"type": "band", "domain": ["Chimp","Human","Macaque"], "paddingInner": 0, "paddingOuter": 0.614}},
    "xOffset": {"field": "condition", "type": "nominal", "scale": {"type": "band", "domain": ["Inverted","Upright"], "paddingInner": 0.131, "paddingOuter": 0.375}},
    "y": {"field": "mean", "type": "quantitative", "title": "Amplitude (μV)", "scale": {"domain": [-3.6, 10], "nice": false, "zero": false}},
    "fill": {"datum": "Mean", "type": "nominal",
      "scale": {"domain": ["Median","Mean"], "range": ["#333333","#efc300"]},
      "legend": {"title": null, "orient": "none", "legendX": 1040.5, "legendY": 724, "padding": 0,
        "symbolSize": 7396, "symbolStrokeColor": "#111111", "symbolStrokeWidth": 2, "symbolOpacity": 1,
        "labelFont": "Liberation Serif", "labelFontSize": 100, "labelColor": "black", "labelOffset": 5, "labelLimit": 0, "rowPadding": 43}},
    "shape": {"datum": "Mean", "type": "nominal",
      "scale": {"domain": ["Median","Mean"], "range": ["M-1.372,-0.372H0.86V0.372H-1.372Z", "diamond"]},
      "legend": {"title": null, "orient": "none", "legendX": 1040.5, "legendY": 724, "padding": 0,
        "symbolSize": 7396, "symbolStrokeColor": "#111111", "symbolStrokeWidth": 2, "symbolOpacity": 1,
        "labelFont": "Liberation Serif", "labelFontSize": 100, "labelColor": "black", "labelOffset": 5, "labelLimit": 0, "rowPadding": 43}}
  }
}
]
}
